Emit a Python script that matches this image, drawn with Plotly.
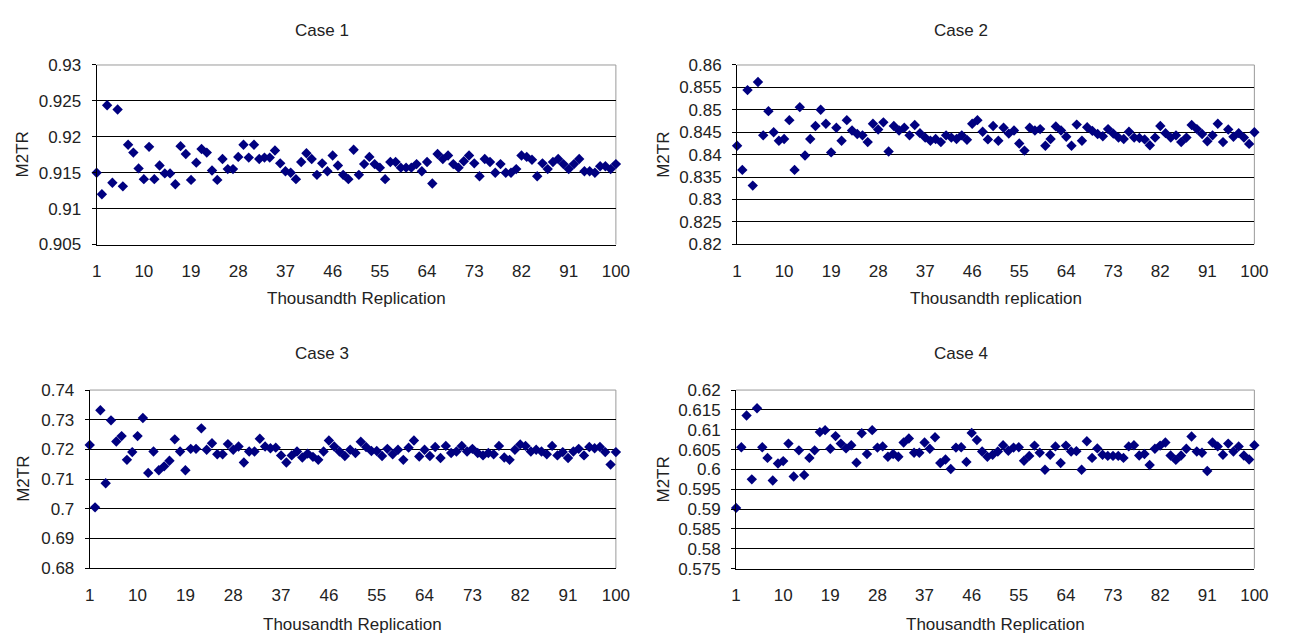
import plotly.graph_objects as go

# ---------------- data ----------------
replication = list(range(1, 101))

case1 = [0.9150, 0.9120, 0.9244, 0.9136, 0.9238, 0.9131, 0.9189, 0.9178, 0.9156, 0.9141,
         0.9186, 0.9141, 0.9160, 0.9149, 0.9149, 0.9134, 0.9187, 0.9176, 0.9140, 0.9164,
         0.9183, 0.9178, 0.9153, 0.9140, 0.9169, 0.9155, 0.9155, 0.9172, 0.9189, 0.9171,
         0.9189, 0.9169, 0.9171, 0.9171, 0.9181, 0.9163, 0.9152, 0.9150, 0.9141, 0.9165,
         0.9177, 0.9169, 0.9147, 0.9163, 0.9152, 0.9174, 0.9160, 0.9147, 0.9141, 0.9182,
         0.9147, 0.9162, 0.9172, 0.9162, 0.9157, 0.9141, 0.9165, 0.9165, 0.9157, 0.9157,
         0.9157, 0.9162, 0.9152, 0.9165, 0.9135, 0.9176, 0.9169, 0.9174, 0.9162, 0.9157,
         0.9166, 0.9174, 0.9163, 0.9145, 0.9169, 0.9165, 0.9150, 0.9162, 0.9150, 0.9150,
         0.9155, 0.9174, 0.9172, 0.9168, 0.9145, 0.9163, 0.9155, 0.9165, 0.9169, 0.9162,
         0.9155, 0.9162, 0.9169, 0.9152, 0.9152, 0.9150, 0.9159, 0.9159, 0.9155, 0.9162]

case2 = [0.8420, 0.8366, 0.8544, 0.8331, 0.8562, 0.8443, 0.8497, 0.8450, 0.8431, 0.8435,
         0.8477, 0.8366, 0.8506, 0.8398, 0.8435, 0.8464, 0.8500, 0.8469, 0.8405, 0.8460,
         0.8431, 0.8477, 0.8454, 0.8446, 0.8443, 0.8428, 0.8469, 0.8456, 0.8472, 0.8407,
         0.8464, 0.8454, 0.8460, 0.8443, 0.8466, 0.8448, 0.8438, 0.8431, 0.8435, 0.8428,
         0.8443, 0.8438, 0.8435, 0.8443, 0.8433, 0.8469, 0.8477, 0.8451, 0.8434, 0.8464,
         0.8431, 0.8460, 0.8447, 0.8454, 0.8425, 0.8409, 0.8460, 0.8454, 0.8457, 0.8420,
         0.8435, 0.8463, 0.8454, 0.8440, 0.8420, 0.8467, 0.8431, 0.8461, 0.8453, 0.8446,
         0.8441, 0.8457, 0.8447, 0.8438, 0.8435, 0.8451, 0.8438, 0.8437, 0.8434, 0.8421,
         0.8438, 0.8464, 0.8448, 0.8438, 0.8443, 0.8428, 0.8438, 0.8466, 0.8457, 0.8446,
         0.8430, 0.8443, 0.8469, 0.8428, 0.8456, 0.8440, 0.8448, 0.8438, 0.8424, 0.8450]

case3 = [0.7215, 0.7005, 0.7332, 0.7086, 0.7298, 0.7227, 0.7245, 0.7165, 0.7191, 0.7245,
         0.7306, 0.7121, 0.7193, 0.7130, 0.7143, 0.7162, 0.7234, 0.7193, 0.7130, 0.7202,
         0.7202, 0.7271, 0.7199, 0.7221, 0.7184, 0.7184, 0.7218, 0.7199, 0.7210, 0.7156,
         0.7193, 0.7193, 0.7236, 0.7210, 0.7204, 0.7206, 0.7180, 0.7156, 0.7180, 0.7193,
         0.7173, 0.7186, 0.7175, 0.7165, 0.7193, 0.7230, 0.7210, 0.7193, 0.7178, 0.7199,
         0.7188, 0.7226, 0.7208, 0.7195, 0.7195, 0.7178, 0.7202, 0.7184, 0.7199, 0.7165,
         0.7206, 0.7230, 0.7176, 0.7199, 0.7178, 0.7208, 0.7171, 0.7212, 0.7188, 0.7193,
         0.7212, 0.7193, 0.7202, 0.7188, 0.7180, 0.7188, 0.7184, 0.7212, 0.7173, 0.7165,
         0.7199, 0.7217, 0.7212, 0.7193, 0.7199, 0.7193, 0.7184, 0.7212, 0.7180, 0.7191,
         0.7171, 0.7193, 0.7202, 0.7180, 0.7208, 0.7204, 0.7208, 0.7191, 0.7149, 0.7191]

case4 = [0.5903, 0.6056, 0.6136, 0.5975, 0.6154, 0.6056, 0.6029, 0.5972, 0.6015, 0.6021,
         0.6065, 0.5982, 0.6048, 0.5986, 0.6029, 0.6048, 0.6094, 0.6099, 0.6052, 0.6084,
         0.6065, 0.6053, 0.6061, 0.6017, 0.6091, 0.6039, 0.6099, 0.6055, 0.6058, 0.6032,
         0.6039, 0.6032, 0.6068, 0.6078, 0.6042, 0.6042, 0.6068, 0.6052, 0.6081, 0.6016,
         0.6025, 0.6001, 0.6055, 0.6056, 0.6019, 0.6092, 0.6074, 0.6045, 0.6032, 0.6037,
         0.6045, 0.6061, 0.6047, 0.6055, 0.6056, 0.6022, 0.6034, 0.6060, 0.6042, 0.5999,
         0.6037, 0.6058, 0.6016, 0.6060, 0.6045, 0.6046, 0.5999, 0.6071, 0.6029, 0.6053,
         0.6037, 0.6034, 0.6034, 0.6034, 0.6029, 0.6058, 0.6061, 0.6035, 0.6039, 0.6011,
         0.6052, 0.6060, 0.6068, 0.6035, 0.6024, 0.6035, 0.6052, 0.6083, 0.6045, 0.6042,
         0.5996, 0.6068, 0.6058, 0.6037, 0.6065, 0.6045, 0.6058, 0.6035, 0.6025, 0.6061]

x_tick_vals = [1, 10, 19, 28, 37, 46, 55, 64, 73, 82, 91, 100]

y_ticks_1 = [0.905, 0.91, 0.915, 0.92, 0.925, 0.93]
y_ticks_2 = [0.82, 0.825, 0.83, 0.835, 0.84, 0.845, 0.85, 0.855, 0.86]
y_ticks_3 = [0.68, 0.69, 0.70, 0.71, 0.72, 0.73, 0.74]
y_ticks_4 = [0.575, 0.58, 0.585, 0.59, 0.595, 0.60, 0.605, 0.61, 0.615, 0.62]

titles = ["Case 1", "Case 2", "Case 3", "Case 4"]
x_titles = ["Thousandth Replication", "Thousandth replication",
            "Thousandth Replication", "Thousandth Replication"]
y_title = "M2TR"

# ---------------- layout helpers ----------------
W, H = 1293, 641
FONT = "Liberation Sans, Arial, sans-serif"
TXT = "#222222"
FS = 17


def fx(px):
    return px / W


def fy(py):
    return 1 - py / H


def lab(v):
    s = ("%.3f" % v).rstrip("0")
    return s.rstrip(".")


panels = [
    # (data, yticks, x px (left,right), y px (top,bottom), title x, title y, xtitle y, ytitle x)
    (case1, y_ticks_1, (93, 620), (57.7, 242.7), 322, 22, 298, 18),
    (case2, y_ticks_2, (743, 1268), (57.7, 242.5), 970, 22, 298, 668),
    (case3, y_ticks_3, (86, 620), (392.7, 576.3), 322, 355, 634, 18),
    (case4, y_ticks_4, (742, 1268), (392.7, 576.7), 970, 355, 634, 668),
]

fig = go.Figure()
annotations = []
shapes = []
layout_axes = {}

for i, (vals, yt, (xl, xr), (yt_px, yb_px), tcx, tcy, xty, ytx) in enumerate(panels):
    n = "" if i == 0 else str(i + 1)
    xa, ya = "x" + n, "y" + n
    fig.add_trace(go.Scatter(
        x=replication, y=vals, mode="markers", xaxis=xa, yaxis=ya,
        marker=dict(symbol="diamond", size=8, color="#000080", line=dict(width=0)),
        cliponaxis=False, showlegend=False, hoverinfo="x+y"))

    layout_axes["xaxis" + n] = dict(
        domain=[fx(xl), fx(xr)], anchor=ya, range=[1, 100],
        tickmode="array", tickvals=x_tick_vals, ticktext=[str(v) for v in x_tick_vals],
        showgrid=False, zeroline=False, showline=True, linecolor="#000000", linewidth=1,
        ticks="", ticklabelstandoff=11,
        tickfont=dict(family=FONT, size=FS, color=TXT))
    layout_axes["yaxis" + n] = dict(
        domain=[fy(yb_px), fy(yt_px)], anchor=xa, range=[yt[0], yt[-1]],
        tickmode="array", tickvals=yt, ticktext=[lab(v) for v in yt],
        showgrid=True, gridcolor="#000000", gridwidth=1, zeroline=False,
        showline=True, linecolor="#000000", linewidth=1,
        ticks="outside", ticklen=4, tickcolor="#000000", ticklabelstandoff=7,
        tickfont=dict(family=FONT, size=FS, color=TXT))

    # plot-area border (top & right, grey)
    shapes.append(dict(type="line", xref="paper", yref="paper", layer="between",
                       x0=fx(xl), x1=fx(xr), y0=fy(yt_px), y1=fy(yt_px),
                       line=dict(color="#9a9a9a", width=1)))
    shapes.append(dict(type="line", xref="paper", yref="paper", layer="between",
                       x0=fx(xr), x1=fx(xr), y0=fy(yt_px), y1=fy(yb_px),
                       line=dict(color="#9a9a9a", width=1)))

    annotations.append(dict(text=titles[i], x=fx(tcx), y=fy(tcy), xref="paper", yref="paper",
                            showarrow=False, xanchor="center", yanchor="middle",
                            font=dict(family=FONT, size=FS, color=TXT)))
    annotations.append(dict(text=x_titles[i], x=fx((xl + xr) / 2), y=fy(xty), xref="paper",
                            yref="paper", showarrow=False, xanchor="center", yanchor="middle",
                            font=dict(family=FONT, size=FS, color=TXT)))
    annotations.append(dict(text=y_title, x=fx(ytx), y=fy((yt_px + yb_px) / 2), xref="paper",
                            yref="paper", showarrow=False, textangle=-90,
                            xanchor="center", yanchor="middle",
                            font=dict(family=FONT, size=FS, color=TXT)))

fig.update_layout(
    width=W, height=H, margin=dict(l=0, r=0, t=0, b=0),
    paper_bgcolor="white", plot_bgcolor="white",
    annotations=annotations, shapes=shapes, **layout_axes)

fig.write_html("out.html", config={"displayModeBar": False},
               post_script="document.body.style.margin='0';document.body.style.overflow='hidden';")
